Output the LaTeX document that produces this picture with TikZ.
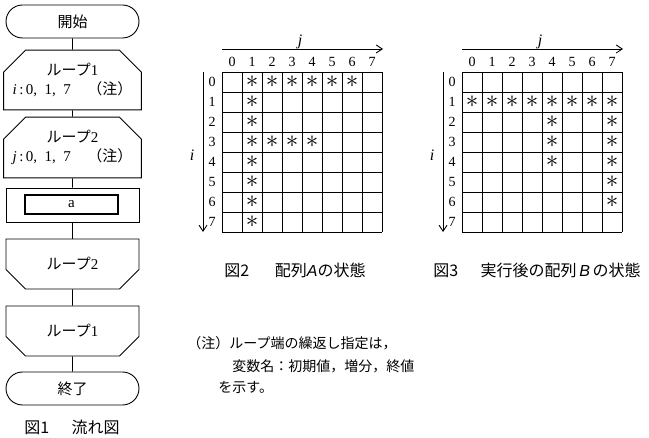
\documentclass[tikz,border=0pt]{standalone}
\usepackage{fontspec}
\usepackage{graphicx}
\setmainfont{Liberation Serif}
\setsansfont{Liberation Sans}
\usetikzlibrary{shapes.misc,arrows.meta}
\newfontfamily\jp{Noto Sans CJK JP}

\begin{document}
\begin{tikzpicture}[x=1pt,y=-1pt,line width=.9pt,>={Straight Barb[length=6pt,width=8pt]}]
    \tikzset{term/.style={draw,rectangle,rounded corners=16.5pt,minimum width=133pt,
                          minimum height=33pt,font=\jp\fontsize{15}{18}\selectfont}}
    \tikzset{loopbeg/.style={draw,chamfered rectangle,
                          chamfered rectangle corners={north west,north east},
                          chamfered rectangle xsep=9pt,chamfered rectangle ysep=13pt,
                          minimum width=133pt,minimum height=50pt,inner sep=0pt,
                          align=center,font=\fontsize{15}{20}\selectfont}}
    \tikzset{loopend/.style={loopbeg,chamfered rectangle corners={south west,south east}}}
    \tikzset{num/.style={inner sep=0pt,font=\fontsize{14}{14}\selectfont}}
    \tikzset{hit/.style={inner sep=0pt}}
    \tikzset{axlab/.style={inner sep=0pt,font=\fontsize{16}{16}\selectfont\itshape}}
    \tikzset{capt/.style={inner sep=0pt,font=\jp\fontsize{16}{16}\selectfont}}
    \tikzset{notetext/.style={inner sep=0pt,anchor=west,font=\jp\fontsize{14}{14}\selectfont}}
    \useasboundingbox (0,0) rectangle (649,438);
    % flow chart
    \node[term] (start) at (72.5,21.5) {開始};
    \node[loopbeg] (loopA) at (72.5,80) {{\jp ループ}1\\[-1pt]%
        \textit{i}\,:\,0,\hspace{.5em}1,\hspace{.5em}7\hspace{1.1em}{\jp（注）}};
    \node[loopbeg] (loopB) at (72.5,147.5) {{\jp ループ}2\\[-1pt]%
        \textit{j}\,:\,0,\hspace{.5em}1,\hspace{.5em}7\hspace{1.1em}{\jp（注）}};
    \node[draw,minimum width=133pt,minimum height=34pt] (proc) at (72.5,205) {};
    \node[draw,line width=1.5pt,minimum width=93pt,minimum height=19pt,inner sep=0pt,
          font=\fontsize{15}{15}\selectfont] (procin) at (71.5,204.5) {a};
    \node[loopend] (endB) at (72.5,264) {{\jp ループ}2};
    \node[loopend] (endA) at (72.5,331) {{\jp ループ}1};
    \node[term] (stop) at (72.5,388.5) {終了};
    \draw (start) -- (loopA);
    \draw (loopA) -- (loopB);
    \draw (loopB) -- (proc);
    \draw (proc) -- (endB);
    \draw (endB) -- (endA);
    \draw (endA) -- (stop);
    \node[capt] (cap1) at (72,427) {図1\hspace{1.4em}流れ図};
    % array A
    \begin{scope}[shift={(222,72)}]
    \foreach \k in {0,...,8} {
        \draw (\k*20,0) -- (\k*20,160);
        \draw (0,\k*20) -- (160,\k*20);
    }
    \foreach \k in {0,...,7} {
        \node[num] (Acol\k) at (\k*20+10,-10) {\k};
        \node[num] (Arow\k) at (-10,\k*20+10) {\k};
    }
    \foreach \r/\c in {0/1,0/2,0/3,0/4,0/5,0/6,1/1,2/1,3/1,3/2,3/3,3/4,4/1,5/1,6/1,7/1}
        \node[hit] (A\r\c) at (\c*20+10,\r*20+10) {\scalebox{2.5}{$\ast$}};
    \coordinate (Aj0) at (0,-23);
    \coordinate (Aj1) at (161,-23);
    \coordinate (Ai0) at (-19,0);
    \coordinate (Ai1) at (-19,160);
    \draw[->] (Aj0) -- (Aj1);
    \draw[->] (Ai0) -- (Ai1);
    \node[axlab] (Aj) at (78,-30) {j};
    \node[axlab] (Ai) at (-30,83) {i};
    \end{scope}
    \node[capt] (cap2) at (295,270) {図2\hspace{1.6em}配列\textsf{\textit{A}}の状態};
    % array B
    \begin{scope}[shift={(462,72)}]
    \foreach \k in {0,...,8} {
        \draw (\k*20,0) -- (\k*20,160);
        \draw (0,\k*20) -- (160,\k*20);
    }
    \foreach \k in {0,...,7} {
        \node[num] (Bcol\k) at (\k*20+10,-10) {\k};
        \node[num] (Brow\k) at (-10,\k*20+10) {\k};
    }
    \foreach \r/\c in {1/0,1/1,1/2,1/3,1/4,1/5,1/6,1/7,2/4,3/4,4/4,2/7,3/7,4/7,5/7,6/7}
        \node[hit] (B\r\c) at (\c*20+10,\r*20+10) {\scalebox{2.5}{$\ast$}};
    \coordinate (Bj0) at (0,-23);
    \coordinate (Bj1) at (161,-23);
    \coordinate (Bi0) at (-19,0);
    \coordinate (Bi1) at (-19,160);
    \draw[->] (Bj0) -- (Bj1);
    \draw[->] (Bi0) -- (Bi1);
    \node[axlab] (Bj) at (78,-30) {j};
    \node[axlab] (Bi) at (-30,83) {i};
    \end{scope}
    \node[capt] (cap3) at (537,270) {図3\hspace{1.4em}実行後の配列\,\textsf{\textit{B}}\,の状態};
    % note
    \node[notetext] (note1) at (187,343) {（注）ループ端の繰返し指定は，};
    \node[notetext] (note2) at (232,366) {変数名：初期値，増分，終値};
    \node[notetext] (note3) at (218,387) {を示す。};
\end{tikzpicture}
\end{document}
